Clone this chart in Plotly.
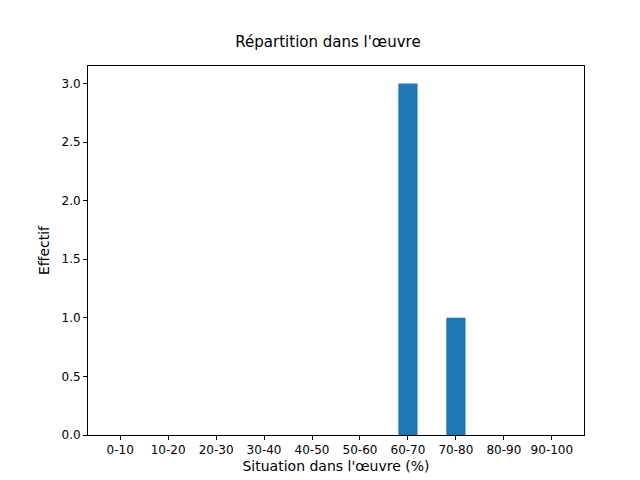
import plotly.graph_objects as go

categories = ["0-10", "10-20", "20-30", "30-40", "40-50", "50-60", "60-70", "70-80", "80-90", "90-100"]
counts = [0, 0, 0, 0, 0, 0, 3, 1, 0, 0]

fig = go.Figure(go.Bar(
    x=list(range(len(categories))),
    y=counts,
    width=0.4,
    marker=dict(color="#1f77b4", line=dict(width=0)),
))

axis_style = dict(
    showline=True, linecolor="black", linewidth=1, mirror=True,
    ticks="outside", ticklen=4, tickcolor="black", showgrid=False, zeroline=False,
)

fig.update_layout(
    title=dict(text="Répartition dans l'œuvre", x=0.5, xanchor="center", y=0.93, yanchor="middle",
               font=dict(size=15, color="black")),
    xaxis=dict(axis_style, range=[-0.67, 9.67], tickmode="array",
               tickvals=list(range(len(categories))), ticktext=categories,
               title=dict(text="Situation dans l'œuvre (%)", standoff=4)),
    yaxis=dict(axis_style, range=[0, 3.15], dtick=0.5, tickformat=".1f",
               title=dict(text="Effectif", standoff=8)),
    plot_bgcolor="white",
    paper_bgcolor="white",
    margin=dict(l=80, r=64, t=58, b=53),
    width=640,
    height=480,
    font=dict(family="DejaVu Sans", size=12, color="black"),
    showlegend=False,
)

fig.write_html("out.html")
